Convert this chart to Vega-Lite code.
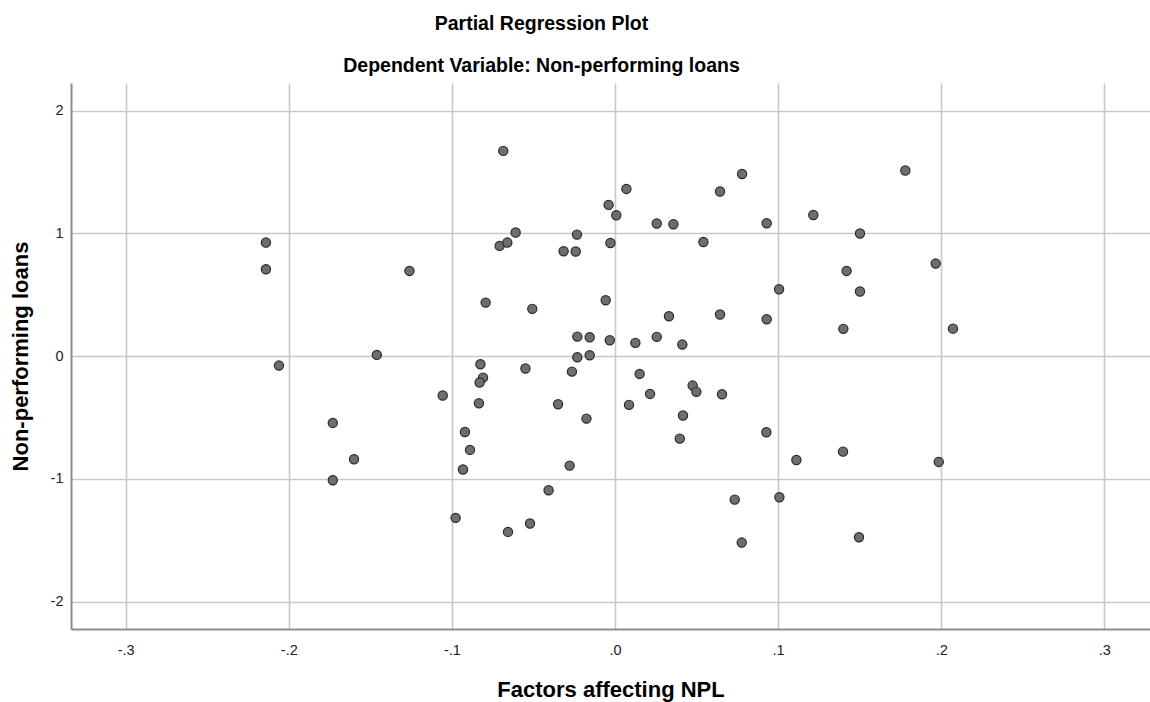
{
  "$schema": "https://vega.github.io/schema/vega-lite/v6.json",
  "autosize": {"type": "none"},
  "width": 1079,
  "height": 546,
  "padding": {"left": 71, "top": 83, "right": 0, "bottom": 73},
  "background": "white",
  "title": {
    "text": "Partial Regression Plot",
    "subtitle": "Dependent Variable: Non-performing loans",
    "anchor": "middle",
    "frame": "group",
    "dx": -69,
    "font": "Liberation Sans",
    "fontSize": 19.5,
    "fontWeight": "bold",
    "color": "#000000",
    "subtitleFont": "Liberation Sans",
    "subtitleFontSize": 19.5,
    "subtitleFontWeight": "bold",
    "subtitleColor": "#000000",
    "subtitlePadding": 22,
    "offset": 7
  },
  "config": {
    "view": {"stroke": null},
    "axis": {
      "labelFont": "Liberation Sans",
      "titleFont": "Liberation Sans",
      "labelColor": "#222222",
      "titleColor": "#000000",
      "gridColor": "#c8c8c8",
      "gridWidth": 1.6,
      "gridOpacity": 1,
      "domainColor": "#8c8c8c",
      "domainWidth": 2,
      "ticks": false
    }
  },
  "data": {
    "values": [
      {"x": -0.214, "y": 0.926},
      {"x": -0.214, "y": 0.709},
      {"x": -0.206, "y": -0.076},
      {"x": -0.173, "y": -0.543},
      {"x": -0.160, "y": -0.839},
      {"x": -0.173, "y": -1.01},
      {"x": -0.146, "y": 0.011},
      {"x": -0.126, "y": 0.695},
      {"x": -0.1056, "y": -0.32},
      {"x": -0.0977, "y": -1.317},
      {"x": -0.092, "y": -0.617},
      {"x": -0.0889, "y": -0.763},
      {"x": -0.0932, "y": -0.923},
      {"x": -0.0825, "y": -0.065},
      {"x": -0.0809, "y": -0.174},
      {"x": -0.083, "y": -0.214},
      {"x": -0.0834, "y": -0.383},
      {"x": -0.0793, "y": 0.437},
      {"x": -0.0707, "y": 0.899},
      {"x": -0.0685, "y": 1.673},
      {"x": -0.066, "y": 0.926},
      {"x": -0.0609, "y": 1.008},
      {"x": -0.0656, "y": -1.431},
      {"x": -0.0549, "y": -0.1},
      {"x": -0.0521, "y": -1.363},
      {"x": -0.0507, "y": 0.386},
      {"x": -0.0407, "y": -1.092},
      {"x": -0.0349, "y": -0.391},
      {"x": -0.0315, "y": 0.855},
      {"x": -0.0278, "y": -0.891},
      {"x": -0.0264, "y": -0.125},
      {"x": -0.0241, "y": 0.853},
      {"x": -0.0233, "y": 0.991},
      {"x": -0.0231, "y": 0.16},
      {"x": -0.0231, "y": -0.008},
      {"x": -0.0175, "y": -0.508},
      {"x": -0.0155, "y": 0.155},
      {"x": -0.0155, "y": 0.008},
      {"x": -0.0057, "y": 0.456},
      {"x": -0.0039, "y": 1.233},
      {"x": -0.0032, "y": 0.13},
      {"x": -0.0028, "y": 0.923},
      {"x": 0.0008, "y": 1.149},
      {"x": 0.007, "y": 1.363},
      {"x": 0.0086, "y": -0.396},
      {"x": 0.0125, "y": 0.109},
      {"x": 0.0151, "y": -0.144},
      {"x": 0.0215, "y": -0.307},
      {"x": 0.0256, "y": 1.081},
      {"x": 0.0256, "y": 0.158},
      {"x": 0.0331, "y": 0.326},
      {"x": 0.0358, "y": 1.075},
      {"x": 0.0397, "y": -0.671},
      {"x": 0.0413, "y": 0.095},
      {"x": 0.0417, "y": -0.483},
      {"x": 0.0476, "y": -0.239},
      {"x": 0.0499, "y": -0.29},
      {"x": 0.0542, "y": 0.931},
      {"x": 0.0644, "y": 1.342},
      {"x": 0.0644, "y": 0.34},
      {"x": 0.0656, "y": -0.31},
      {"x": 0.0734, "y": -1.168},
      {"x": 0.0777, "y": -1.518},
      {"x": 0.0779, "y": 1.485},
      {"x": 0.0928, "y": -0.619},
      {"x": 0.093, "y": 1.083},
      {"x": 0.093, "y": 0.301},
      {"x": 0.1006, "y": 0.546},
      {"x": 0.1008, "y": -1.149},
      {"x": 0.1112, "y": -0.845},
      {"x": 0.1216, "y": 1.151},
      {"x": 0.1398, "y": -0.777},
      {"x": 0.14, "y": 0.223},
      {"x": 0.142, "y": 0.695},
      {"x": 0.1496, "y": -1.475},
      {"x": 0.1502, "y": 1.0},
      {"x": 0.1502, "y": 0.527},
      {"x": 0.178, "y": 1.513},
      {"x": 0.1966, "y": 0.755},
      {"x": 0.1985, "y": -0.861},
      {"x": 0.2072, "y": 0.225}
    ]
  },
  "mark": {
    "type": "point",
    "filled": true,
    "size": 85,
    "fill": "#6e6e6e",
    "stroke": "#2a2a2a",
    "strokeWidth": 1.2,
    "opacity": 1
  },
  "encoding": {
    "x": {
      "field": "x",
      "type": "quantitative",
      "scale": {"domain": [-0.3335, 0.328], "nice": false, "zero": false},
      "axis": {
        "title": "Factors affecting NPL",
        "values": [-0.3, -0.2, -0.1, 0, 0.1, 0.2, 0.3],
        "labelExpr": "datum.value == 0 ? '.0' : replace(datum.value + '', '0.', '.')",
        "labelFontSize": 14.5,
        "labelPadding": 14,
        "titleFontSize": 22,
        "titleFontWeight": "bold",
        "titlePadding": 23
      }
    },
    "y": {
      "field": "y",
      "type": "quantitative",
      "scale": {"domain": [-2.222, 2.226], "nice": false, "zero": false},
      "axis": {
        "title": "Non-performing loans",
        "values": [-2, -1, 0, 1, 2],
        "labelExpr": "datum.value + ''",
        "labelFontSize": 14.5,
        "labelPadding": 8,
        "titleFontSize": 22,
        "titleFontWeight": "bold",
        "titlePadding": 18
      }
    }
  }
}
